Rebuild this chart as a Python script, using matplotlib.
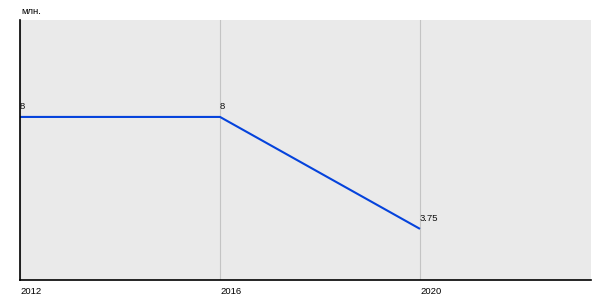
import matplotlib.pyplot as plt

years = ['2012', '2016', '2020']
values = [8, 8, 3.75]
value_labels = ['8', '8', '3.75']
unit = 'млн.'

plt.rcParams['font.family'] = ['Liberation Sans', 'DejaVu Sans']

fig = plt.figure(figsize=(6, 3), dpi=100)
ax = fig.add_axes([20 / 600, 20 / 300, 571 / 600, 260 / 300])
ax.set_facecolor('#eaeaea')

x = list(range(len(years)))
ax.plot(x, values, color='#0543dc', linewidth=1.5, solid_capstyle='butt')
for xi, v, lab in zip(x, values, value_labels):
    ax.annotate(lab, (xi, v), xytext=(0, 4), textcoords='offset points',
                fontsize=6.8, ha='left', va='bottom', color='#111111')

ax.set_xlim(0, 2.855)
ax.set_ylim(1.81, 11.68)
ax.set_xticks(x)
ax.set_xticklabels(years, fontsize=6.8, ha='left')
ax.tick_params(axis='x', length=0, pad=5)
ax.set_yticks([])
ax.grid(axis='x', color='#c4c4c4', linewidth=0.8)
ax.set_axisbelow(True)

for s in ['top', 'right']:
    ax.spines[s].set_visible(False)
for s in ['left', 'bottom']:
    ax.spines[s].set_color('black')
    ax.spines[s].set_linewidth(1.2)

fig.text(21 / 600, 1 - 11 / 300, unit, fontsize=6.8, va='center', ha='left')

fig.savefig('out.png', dpi=100)
